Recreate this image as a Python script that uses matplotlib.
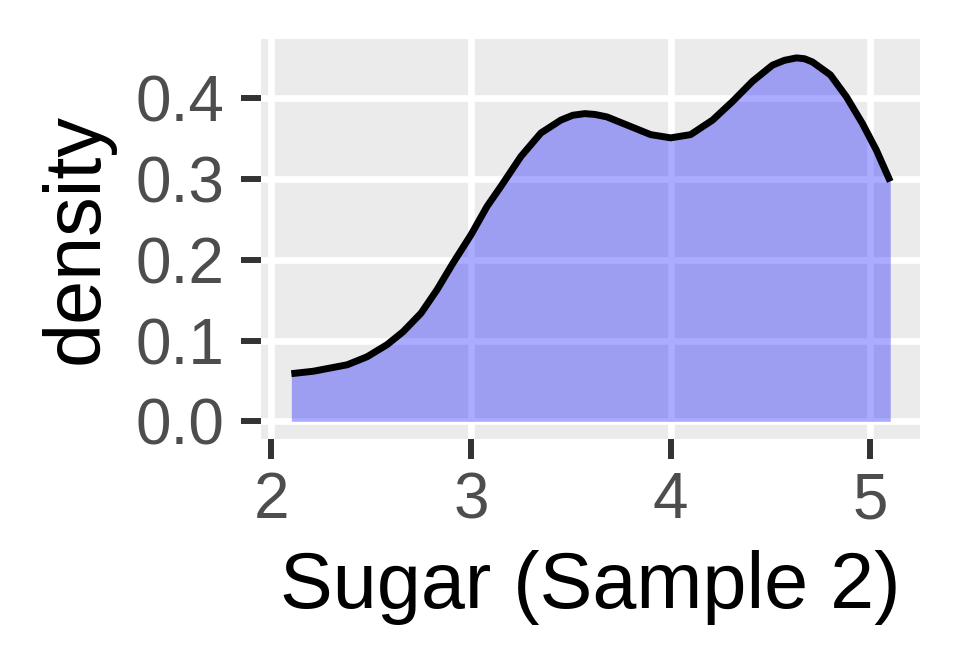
import matplotlib
matplotlib.use("Agg")
import matplotlib.pyplot as plt

plt.rcParams['font.family'] = ['Liberation Sans', 'DejaVu Sans']

# density curve
sugar = [2.10, 2.21, 2.38, 2.48, 2.58, 2.66, 2.75, 2.83, 2.91, 3.00, 3.08,
         3.15, 3.25, 3.35, 3.45, 3.51, 3.57, 3.62, 3.68, 3.80, 3.90, 4.00,
         4.10, 4.21, 4.31, 4.41, 4.51, 4.57, 4.63, 4.67, 4.71, 4.80, 4.88,
         4.96, 5.03, 5.10]
density = [0.059, 0.062, 0.070, 0.080, 0.095, 0.111, 0.134, 0.163, 0.196,
           0.231, 0.266, 0.291, 0.328, 0.357, 0.373, 0.379, 0.381, 0.380,
           0.377, 0.365, 0.355, 0.351, 0.355, 0.373, 0.396, 0.421, 0.441,
           0.447, 0.450, 0.449, 0.445, 0.429, 0.402, 0.369, 0.336, 0.297]

x_ticks = [2, 3, 4, 5]
y_ticks = [0.0, 0.1, 0.2, 0.3, 0.4]

fig = plt.figure(figsize=(9.6, 6.72), dpi=100)
ax = fig.add_axes([261 / 960, 1 - 439 / 672, 659 / 960, 400 / 672])
ax.set_facecolor('#EBEBEB')

ax.fill_between(sugar, 0, density, color='blue', alpha=0.33, linewidth=0, zorder=3)
ax.plot(sugar, density, color='black', linewidth=5.0, zorder=4,
        solid_capstyle='butt', solid_joinstyle='round')

ax.set_xlim(1.948, 5.249)
ax.set_ylim(-0.0219, 0.4734)
ax.set_xticks(x_ticks)
ax.set_yticks(y_ticks)
ax.set_xticklabels([str(v) for v in x_ticks])
ax.set_yticklabels([f'{v:.1f}' for v in y_ticks])

ax.grid(True, color='white', linewidth=4.8, zorder=1)
ax.set_axisbelow(True)
for s in ax.spines.values():
    s.set_visible(False)

ax.tick_params(axis='both', length=14.4, width=4.3, color='#333333',
               labelcolor='#4D4D4D', labelsize=46)
ax.tick_params(axis='y', pad=12)
ax.tick_params(axis='x', pad=9)

ax.set_xlabel('Sugar (Sample 2)', fontsize=57, color='black', labelpad=13)
ax.set_ylabel('density', fontsize=57, color='black', labelpad=15)

fig.savefig('out.png', dpi=100)
